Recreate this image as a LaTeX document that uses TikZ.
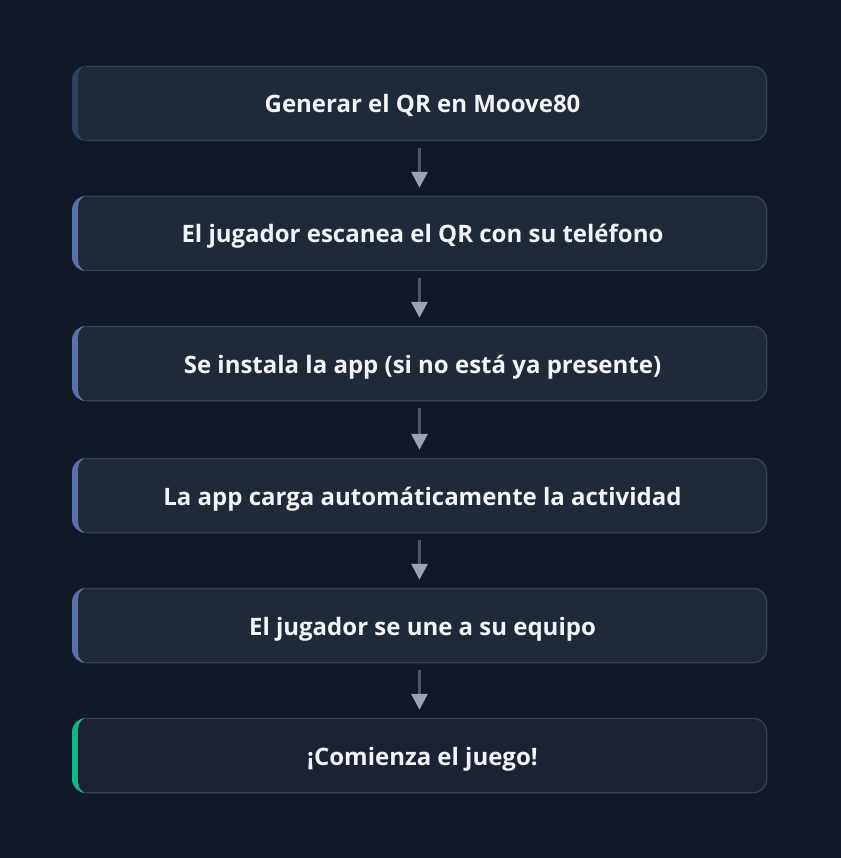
\documentclass[tikz,border=0pt]{standalone}
\usepackage{fontspec}
\setmainfont{Open Sans}[UprightFont={* Bold}]
\usetikzlibrary{arrows.meta}
\definecolor{bg}{HTML}{111827}
\definecolor{boxfill}{HTML}{202938}
\definecolor{boxfilllast}{HTML}{1B2233}
\definecolor{boxborder}{HTML}{374151}
\definecolor{accfirst}{HTML}{2F3F60}
\definecolor{accmid}{HTML}{5A70A8}
\definecolor{accgreen}{HTML}{10B981}
\definecolor{stemcol}{HTML}{4B5563}
\definecolor{headcol}{HTML}{9CA3AF}
\definecolor{txt}{HTML}{F3F4F6}
\newcommand{\steptext}[1]{\hspace*{6pt}\raisebox{0pt}[19pt][0pt]{#1}}
\tikzset{
  stepbox/.style={rectangle, rounded corners=14pt, minimum width=695pt, minimum height=75pt,
    inner sep=0pt, text=txt, font=\fontsize{24}{28}\selectfont, fill=#1,
    path picture={\fill[boxfill, rounded corners=12pt]
      ([xshift=6pt,yshift=-1pt]path picture bounding box.south west) rectangle
      ([xshift=1pt,yshift=1pt]path picture bounding box.north east);}},
  laststep/.style={stepbox=accgreen,
    path picture={\fill[boxfilllast, rounded corners=12pt]
      ([xshift=6pt,yshift=-1pt]path picture bounding box.south west) rectangle
      ([xshift=1pt,yshift=1pt]path picture bounding box.north east);}},
  flowarrow/.style={draw=stemcol, line width=3pt, shorten <=7pt, shorten >=8pt,
    -{Triangle[width=16pt,length=16pt,color=headcol]}},
  rim/.style={draw=boxborder, line width=1.2pt}
}
\newcommand{\boxrim}[1]{%
  \draw[rim] ([xshift=14pt,yshift=-0.6pt]#1.north west) -- ([xshift=-14pt,yshift=-0.6pt]#1.north east)
    arc[start angle=90,end angle=0,radius=13.4pt] -- ([xshift=-0.6pt,yshift=14pt]#1.south east)
    arc[start angle=0,end angle=-90,radius=13.4pt] -- ([xshift=14pt,yshift=0.6pt]#1.south west);}
\begin{document}
\begin{tikzpicture}[x=1pt,y=-1pt]
\useasboundingbox (0,0) rectangle (840,858);
\fill[bg] (-2,-2) rectangle (842,860);
\node[stepbox=accfirst] (b1) at (419.5,103.5) {\steptext{Generar el QR en Moove80}};
\node[stepbox=accmid] (b2) at (419.5,233.5) {\steptext{El jugador escanea el QR con su teléfono}};
\node[stepbox=accmid] (b3) at (419.5,363.5) {\steptext{Se instala la app (si no está ya presente)}};
\node[stepbox=accmid] (b4) at (419.5,495.5) {\steptext{La app carga automáticamente la actividad}};
\node[stepbox=accmid] (b5) at (419.5,625.5) {\steptext{El jugador se une a su equipo}};
\node[laststep] (b6) at (419.5,755.5) {\steptext{¡Comienza el juego!}};
\foreach \b in {b1,b2,b3,b4,b5,b6}{\boxrim{\b}}
\draw[flowarrow] (b1.south) -- (b2.north);
\draw[flowarrow] (b2.south) -- (b3.north);
\draw[flowarrow] (b3.south) -- (b4.north);
\draw[flowarrow] (b4.south) -- (b5.north);
\draw[flowarrow] (b5.south) -- (b6.north);
\end{tikzpicture}
\end{document}
